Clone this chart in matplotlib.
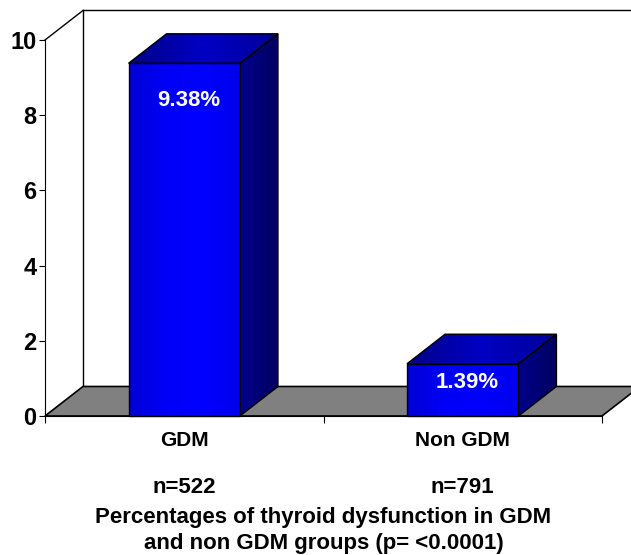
import numpy as np
import matplotlib
matplotlib.use("Agg")
import matplotlib.pyplot as plt
from matplotlib.patches import Polygon
from matplotlib.colors import LinearSegmentedColormap

# data
categories = ["GDM", "Non GDM"]
sample_sizes = ["n=522", "n=791"]
values = [9.38, 1.39]
value_labels = ["9.38%", "1.39%"]
yticks = [0, 2, 4, 6, 8, 10]
title_lines = ["Percentages of thyroid dysfunction in GDM",
               "and non GDM groups (p= <0.0001)"]

plt.rcParams['font.family'] = ['Liberation Sans', 'DejaVu Sans']
plt.rcParams['font.weight'] = 'bold'

# layout (3d offset of the floor / bars, in data units)
dx, dy = 0.1364, 0.785
bar_w = 0.4
label_drop = [0.98, 0.51]

fig = plt.figure(figsize=(6.31, 5.55), dpi=100)
ax = fig.add_axes([0, 0, 1, 1])


def grad_poly(verts, cols, z):
    poly = Polygon(verts, closed=True, facecolor='none', edgecolor='black',
                   lw=1, zorder=z + 0.1, clip_on=False)
    ax.add_patch(poly)
    xs, ys = zip(*verts)
    cmap = LinearSegmentedColormap.from_list('g', cols)
    g = np.linspace(0, 1, 256).reshape(1, -1)
    im = ax.imshow(g, cmap=cmap, extent=[min(xs), max(xs), min(ys), max(ys)],
                   aspect='auto', zorder=z, interpolation='bicubic')
    im.set_clip_path(poly)


# back wall
ax.plot([dx, dx], [dy, 10 + dy], color='black', lw=1, zorder=1)
ax.plot([dx, 2 + dx + 0.2], [10 + dy, 10 + dy], color='black', lw=1, zorder=1)
ax.plot([0, dx], [10, 10 + dy], color='black', lw=1, zorder=1)

# floor
floor = Polygon([(0, 0), (2, 0), (2 + dx, dy), (dx, dy)], closed=True,
                facecolor='#808080', edgecolor='black', lw=1.2, zorder=2)
ax.add_patch(floor)

# bars
for i, v in enumerate(values):
    x0 = i + 0.5 - bar_w / 2
    x1 = x0 + bar_w
    grad_poly([(x0, 0), (x1, 0), (x1, v), (x0, v)],
              ['#0000d4', '#0000f8', '#0000ff', '#0000ec'], 5)
    grad_poly([(x0, v), (x1, v), (x1 + dx, v + dy), (x0 + dx, v + dy)],
              ['#000088', '#0000c4', '#000098'], 4)
    grad_poly([(x1, 0), (x1 + dx, dy), (x1 + dx, v + dy), (x1, v)],
              ['#00008c', '#000060'], 4)
    ax.text(i + 0.515, v - label_drop[i], value_labels[i], color='white',
            fontsize=16, fontweight='bold', ha='center', va='center', zorder=7)

# category labels and title
for i, c in enumerate(categories):
    ax.text(i + 0.5, -0.64, c, fontsize=15, fontweight='bold',
            ha='center', va='center')
    ax.text(i + 0.5, -1.89, sample_sizes[i], fontsize=16, fontweight='bold',
            ha='center', va='center')
ax.text(1.0, -2.69, title_lines[0], fontsize=16, fontweight='bold',
        ha='center', va='center')
ax.text(1.0, -3.38, title_lines[1], fontsize=16, fontweight='bold',
        ha='center', va='center')

# axes
ax.set_xlim(-45 / 278.5, 586 / 278.5)
ax.set_ylim(-139 / 37.6, 416 / 37.6)
for s in ['top', 'right']:
    ax.spines[s].set_visible(False)
ax.spines['left'].set_position(('data', 0))
ax.spines['left'].set_bounds(0, 10)
ax.spines['bottom'].set_position(('data', 0))
ax.spines['bottom'].set_bounds(0, 2)
ax.spines['bottom'].set_zorder(3)
ax.set_yticks(yticks)
ax.set_yticklabels([str(t) for t in yticks], fontsize=17, fontweight='bold')
ax.set_xticks([0, 1, 2])
ax.set_xticklabels([])
ax.tick_params(axis='y', direction='out', length=4, pad=2)
ax.tick_params(axis='x', direction='out', length=5)
ax.patch.set_visible(False)

fig.savefig('out.png', dpi=100)
